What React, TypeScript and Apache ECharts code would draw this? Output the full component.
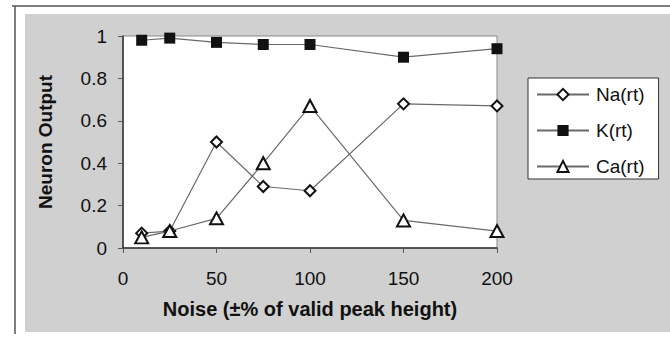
import React, { useEffect, useRef } from "react";
import * as echarts from "echarts";

const noiseLevels = [10, 25, 50, 75, 100, 150, 200];
const naValues = [0.07, 0.08, 0.5, 0.29, 0.27, 0.68, 0.67];
const kValues = [0.98, 0.99, 0.97, 0.96, 0.96, 0.9, 0.94];
const caValues = [0.05, 0.08, 0.14, 0.4, 0.67, 0.13, 0.08];
const seriesNames = ["Na(rt)", "K(rt)", "Ca(rt)"];

const FONT = "'Liberation Sans', Arial, sans-serif";

export default function App() {
  const ref = useRef<HTMLDivElement>(null);
  useEffect(() => {
    if (!ref.current) return;
    const chart = echarts.init(ref.current, null, { renderer: "svg" });
    const pairs = (vals: number[]) => noiseLevels.map((x, i) => [x, vals[i]]);
    const lineStyle = { color: "#6a6a6a", width: 1.2 };
    chart.setOption({
      animation: false,
      backgroundColor: "#ffffff",
      textStyle: { fontFamily: FONT },
      graphic: [
        { type: "rect", z: -10, shape: { x: 25, y: 14, width: 645, height: 318 }, style: { fill: "#d0d0d0" }, silent: true },
        { type: "line", z: -5, shape: { x1: 12, y1: 6, x2: 670, y2: 6 }, style: { stroke: "#555", lineWidth: 1.5 } },
        { type: "line", z: -5, shape: { x1: 15, y1: 6, x2: 15, y2: 334 }, style: { stroke: "#555", lineWidth: 1.5 } },
      ],
      grid: {
        left: 123,
        top: 36,
        right: 173,
        bottom: 89,
        show: true,
        backgroundColor: "#ffffff",
        borderColor: "#888",
        borderWidth: 1,
      },
      legend: {
        orient: "vertical",
        left: 528,
        top: 78,
        width: 134,
        backgroundColor: "#ffffff",
        borderColor: "#333",
        borderWidth: 1,
        padding: [7, 14, 3, 8],
        itemWidth: 52,
        itemHeight: 14,
        itemGap: 17,
        data: seriesNames,
        textStyle: { fontFamily: FONT, fontSize: 19, color: "#111", padding: [0, 0, 0, 2] },
      },
      xAxis: {
        type: "value",
        min: 0,
        max: 200,
        interval: 50,
        name: "Noise (\u00b1% of valid peak height)",
        nameLocation: "middle",
        nameGap: 51,
        nameTextStyle: { fontFamily: FONT, fontSize: 20, fontWeight: "bold", color: "#111" },
        axisLine: { lineStyle: { color: "#333", width: 1.5 } },
        axisTick: { show: true, length: 5, lineStyle: { color: "#555" } },
        axisLabel: { fontFamily: FONT, fontSize: 19, color: "#111", margin: 21 },
        splitLine: { show: false },
      },
      yAxis: {
        type: "value",
        min: 0,
        max: 1,
        interval: 0.2,
        name: "Neuron Output",
        nameLocation: "middle",
        nameGap: 68,
        nameTextStyle: { fontFamily: FONT, fontSize: 19, fontWeight: "bold", color: "#111" },
        axisLine: { show: true, lineStyle: { color: "#333", width: 1.5 } },
        axisTick: { show: true, length: 5, lineStyle: { color: "#555" } },
        axisLabel: { fontFamily: FONT, fontSize: 19, color: "#111", margin: 16 },
        splitLine: { show: false },
      },
      series: [
        {
          name: seriesNames[0],
          type: "line",
          data: pairs(naValues),
          symbol: "diamond",
          symbolSize: 11,
          showAllSymbol: true,
          lineStyle,
          itemStyle: { color: "#ffffff", borderColor: "#111", borderWidth: 2 },
          z: 3,
        },
        {
          name: seriesNames[1],
          type: "line",
          data: pairs(kValues),
          symbol: "rect",
          symbolSize: 11,
          lineStyle,
          itemStyle: { color: "#111", borderColor: "#111", borderWidth: 0 },
          z: 2,
        },
        {
          name: seriesNames[2],
          type: "line",
          data: pairs(caValues),
          symbol: "triangle",
          symbolSize: [13, 12],
          lineStyle,
          itemStyle: { color: "#ffffff", borderColor: "#111", borderWidth: 2 },
          z: 4,
        },
      ],
    });
    return () => chart.dispose();
  }, []);
  return <div ref={ref} style={{ width: 670, height: 337, position: "absolute", left: 0, top: 0 }} />;
}
